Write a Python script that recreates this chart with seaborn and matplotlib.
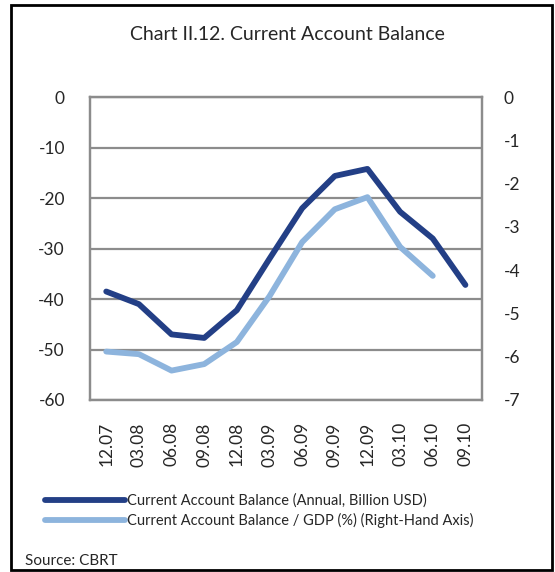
import matplotlib
matplotlib.use("Agg")
import matplotlib.pyplot as plt
import seaborn as sns
import pandas as pd
from matplotlib.patches import Rectangle

sns.set_style("white")
plt.rcParams['font.family'] = ['Lato', 'DejaVu Sans']
plt.rcParams['axes.unicode_minus'] = False

# Data
quarters = ["12.07", "03.08", "06.08", "09.08", "12.08", "03.09",
            "06.09", "09.09", "12.09", "03.10", "06.10", "09.10"]
balance_usd = [-38.5, -41.0, -47.0, -47.7, -42.2, -32.0,
               -22.0, -15.6, -14.2, -22.7, -28.0, -37.2]
balance_gdp = [-5.88, -5.94, -6.32, -6.17, -5.66, -4.6,
               -3.35, -2.59, -2.31, -3.46, -4.13, None]

df = pd.DataFrame({"quarter": quarters, "usd": balance_usd, "gdp": balance_gdp})
df["pos"] = range(len(df))

dark = "#233f86"
light = "#8db4dd"
grid_col = "#8c8c8c"

fig = plt.figure(figsize=(5.55, 5.72), dpi=100)
ax = fig.add_axes([0.162, 0.3007, 0.706, 0.5293])
ax2 = ax.twinx()

sns.lineplot(data=df, x="pos", y="usd", ax=ax, color=dark, linewidth=4.2,
             label="Current Account Balance (Annual, Billion USD)", legend=False)
sns.lineplot(data=df, x="pos", y="gdp", ax=ax2, color=light, linewidth=4.2,
             label="Current Account Balance / GDP (%) (Right-Hand Axis)", legend=False)

ax.set_xlim(-0.5, len(quarters) - 0.5)
ax.set_ylim(-60, 0)
ax.set_yticks(range(-60, 1, 10))
ax2.set_ylim(-7, 0)
ax2.set_yticks(range(-7, 1))
ax.set_xticks(df["pos"])
ax.set_xticklabels(quarters, rotation=90, fontsize=12.5)
ax.set_xlabel("")
ax.set_ylabel("")
ax2.set_ylabel("")

ax.yaxis.grid(True, color=grid_col, linewidth=1.6)
ax.set_axisbelow(True)
for a in (ax, ax2):
    for s in a.spines.values():
        s.set_color(grid_col)
        s.set_linewidth(1.6)
    a.tick_params(length=0)
ax.tick_params(axis="y", pad=18, labelsize=12.5)
ax.tick_params(axis="x", pad=16)
ax2.tick_params(axis="y", pad=16, labelsize=12.5)

h1, l1 = ax.get_legend_handles_labels()
h2, l2 = ax2.get_legend_handles_labels()
fig.legend(h1 + h2, l1 + l2, loc="upper left", bbox_to_anchor=(0.07, 0.147),
           frameon=False, fontsize=10.5, handlelength=5.5, handletextpad=0.15,
           labelspacing=0.35, borderaxespad=0)

fig.text(0.518, 0.94, "Chart II.12. Current Account Balance", ha="center",
         va="center", fontsize=14)
fig.text(0.045, 0.02, "Source: CBRT", ha="left", va="center", fontsize=11)

fig.patches.append(Rectangle((0.019, 0.004), 0.976, 0.988, transform=fig.transFigure,
                             fill=False, edgecolor="black", linewidth=2))

fig.savefig("out.png", dpi=100)
